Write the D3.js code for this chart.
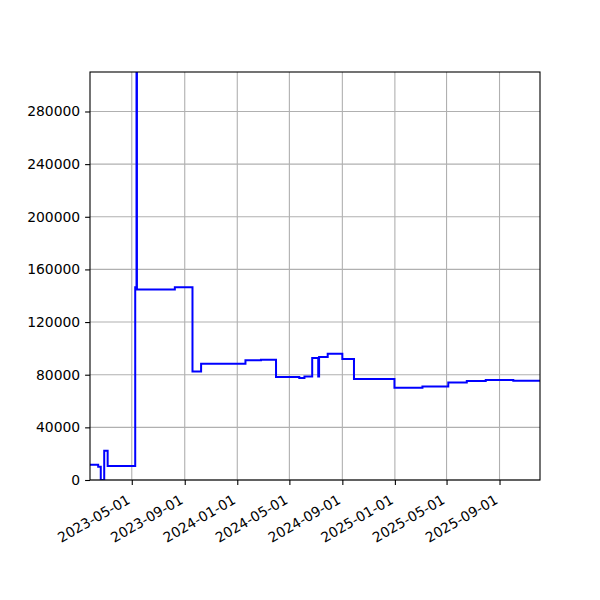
<!DOCTYPE html>
<html>
<head>
<meta charset="utf-8">
<script src="https://cdn.jsdelivr.net/npm/d3@7"></script>
<style>
  body { margin: 0; background: #fff; }
  svg { font-family: "DejaVu Sans", sans-serif; }
</style>
</head>
<body>
<div id="chart"></div>
<script>
// step changes: date the value starts, and the value
const dates = [
  "2023-01-24", "2023-02-12", "2023-02-18", "2023-02-26", "2023-03-06",
  "2023-05-09", "2023-05-12", "2023-05-13", "2023-08-09", "2023-09-19",
  "2023-10-09", "2024-01-20", "2024-02-25", "2024-03-31", "2024-05-24",
  "2024-06-05", "2024-06-23", "2024-07-07", "2024-07-08", "2024-07-09",
  "2024-07-29", "2024-09-01", "2024-09-28", "2024-12-31", "2025-03-06",
  "2025-05-05", "2025-06-17", "2025-07-31", "2025-10-03", "2025-12-04"
];
const values = [
  11500, 10100, 0, 22300, 10600,
  146500, 320000, 144800, 146400, 82500,
  88300, 90900, 91400, 78200, 77500,
  78700, 92700, 78700, 78700, 93500,
  96000, 92000, 76800, 70100, 71100,
  74100, 75200, 76000, 75400, 75400
];
const yTicks = [0, 40000, 80000, 120000, 160000, 200000, 240000, 280000];
const xTicks = ["2023-05-01", "2023-09-01", "2024-01-01", "2024-05-01",
  "2024-09-01", "2025-01-01", "2025-05-01", "2025-09-01"];

const width = 600;
const height = 600;
const margin = {top: 72, right: 60, bottom: 120, left: 90};
const parse = d3.utcParse("%Y-%m-%d");

const data = dates.map((d, i) => ({date: parse(d), value: values[i]}));

let x = d3.scaleUtc()
    .domain([parse("2023-01-24"), parse("2025-12-04")])
    .range([margin.left, width - margin.right]);
let y = d3.scaleLinear()
    .domain([0, 310000])
    .range([height - margin.bottom, margin.top]);

let svg = d3.select("#chart").append("svg")
    .attr("width", width)
    .attr("height", height);

svg.append("defs").append("clipPath")
    .attr("id", "clip")
    .append("rect")
    .attr("x", margin.left)
    .attr("y", margin.top)
    .attr("width", width - margin.left - margin.right)
    .attr("height", height - margin.top - margin.bottom);

// grid
let grid = svg.append("g").attr("class", "grid");
grid.selectAll("line.gx")
    .data(xTicks.map(parse))
    .enter().append("line")
    .attr("x1", d => x(d)).attr("x2", d => x(d))
    .attr("y1", margin.top).attr("y2", height - margin.bottom)
    .attr("stroke", "#b0b0b0").attr("stroke-width", 1.1);
grid.selectAll("line.gy")
    .data(yTicks)
    .enter().append("line")
    .attr("x1", margin.left).attr("x2", width - margin.right)
    .attr("y1", d => y(d)).attr("y2", d => y(d))
    .attr("stroke", "#b0b0b0").attr("stroke-width", 1.1);

// the line
let line = d3.line()
    .x(d => x(d.date))
    .y(d => y(d.value))
    .curve(d3.curveStepAfter);

svg.append("path")
    .datum(data)
    .attr("clip-path", "url(#clip)")
    .attr("fill", "none")
    .attr("stroke", "#0000ff")
    .attr("stroke-width", 2)
    .attr("stroke-linejoin", "miter")
    .attr("d", line);

// frame
svg.append("rect")
    .attr("x", margin.left)
    .attr("y", margin.top)
    .attr("width", width - margin.left - margin.right)
    .attr("height", height - margin.top - margin.bottom)
    .attr("fill", "none")
    .attr("stroke", "#000")
    .attr("stroke-width", 1.1);

// axes
let yAxis = svg.append("g")
    .attr("transform", "translate(" + margin.left + ",0)")
    .call(d3.axisLeft(y).tickValues(yTicks).tickFormat(d3.format("d")).tickSize(4.9).tickPadding(4.9));
let xAxis = svg.append("g")
    .attr("transform", "translate(0," + (height - margin.bottom) + ")")
    .call(d3.axisBottom(x).tickValues(xTicks.map(parse)).tickFormat(d3.utcFormat("%Y-%m-%d")).tickSize(4.9).tickSizeOuter(0));

[xAxis, yAxis].forEach(a => {
    a.select(".domain").remove();
    a.selectAll("line").attr("stroke", "#000").attr("stroke-width", 1.1);
    a.selectAll("text").attr("fill", "#000").style("font-size", "13.9px")
        .style("font-family", "'DejaVu Sans', sans-serif");
});

// rotated date labels, anchored at their right end under the tick
xAxis.selectAll("text")
    .attr("text-anchor", "end")
    .attr("x", -6)
    .attr("y", 14)
    .attr("dy", "0.71em")
    .attr("transform", "rotate(-30,-6,14)");
</script>
</body>
</html>
